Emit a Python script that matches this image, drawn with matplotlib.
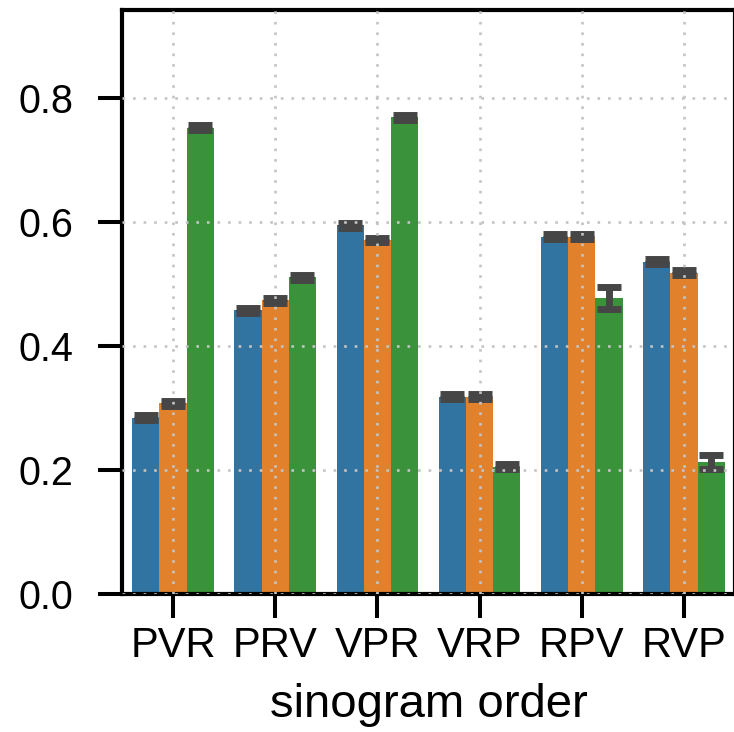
import matplotlib.pyplot as plt
import numpy as np

# Mean score per sinogram order, three runs per order
orders = ['PVR', 'PRV', 'VPR', 'VRP', 'RPV', 'RVP']
blue_vals = [0.284, 0.458, 0.595, 0.318, 0.576, 0.536]
orange_vals = [0.308, 0.474, 0.571, 0.318, 0.576, 0.518]
green_vals = [0.752, 0.511, 0.769, 0.205, 0.478, 0.213]
blue_err = [0.004, 0.004, 0.004, 0.004, 0.004, 0.004]
orange_err = [0.004, 0.004, 0.004, 0.004, 0.004, 0.004]
green_err = [0.004, 0.004, 0.004, 0.004, 0.018, 0.012]

plt.rcParams['font.family'] = ['Liberation Sans', 'DejaVu Sans']

fig = plt.figure(figsize=(7.34, 7.32), dpi=100)
# axes run just past the right edge of the canvas
ax = fig.add_axes([122 / 734, 1 - 594 / 732, 613 / 734, 584 / 732])

x = np.arange(len(orders))
width = 0.8 / 3
series = [
    (blue_vals, blue_err, '#3274a1'),
    (orange_vals, orange_err, '#e1812c'),
    (green_vals, green_err, '#3a923a'),
]
for i, (vals, errs, color) in enumerate(series):
    ax.bar(x + (i - 1) * width, vals, width, yerr=errs, color=color,
           capsize=8.5, error_kw=dict(ecolor='#464646', elinewidth=5, capthick=5))

ax.set_xlim(-0.5, 5.5)
ax.set_ylim(0, 0.942)
ax.set_yticks([0.0, 0.2, 0.4, 0.6, 0.8])
ax.set_yticklabels(['0.0', '0.2', '0.4', '0.6', '0.8'])
ax.set_xticks(x)
ax.set_xticklabels(orders)

# dotted grid drawn over the bars
ax.set_axisbelow(False)
ax.grid(True, color='#c4c4c4', linewidth=1.9, linestyle=(0, (1, 3)))

for s in ax.spines.values():
    s.set_linewidth(3)
ax.tick_params(axis='both', direction='out', length=17, width=2.9)
ax.tick_params(axis='y', pad=18, labelsize=28.5)
ax.tick_params(axis='x', pad=6, labelsize=30)
ax.set_xlabel('sinogram order', fontsize=34, labelpad=12)

fig.savefig('out.png', dpi=100)
